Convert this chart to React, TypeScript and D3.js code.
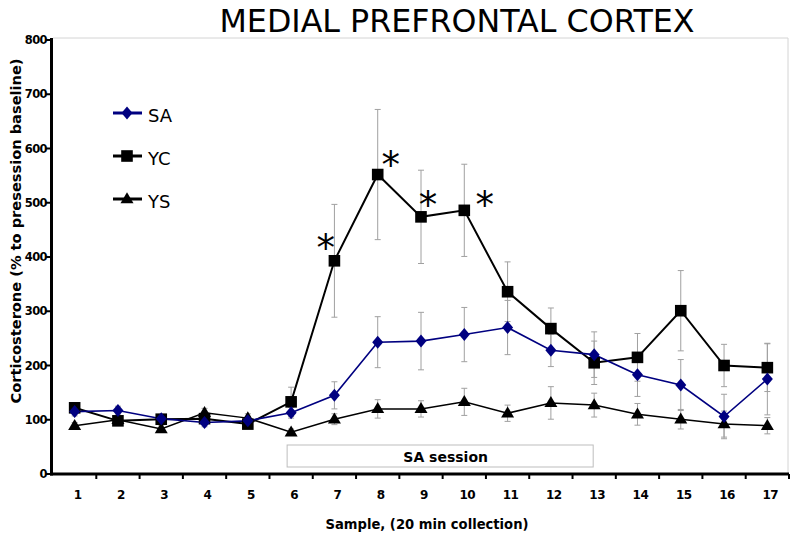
import React from "react";
import * as d3 from "d3";

const samples = [1, 2, 3, 4, 5, 6, 7, 8, 9, 10, 11, 12, 13, 14, 15, 16, 17];
const saValues = [115, 117, 102, 95, 98, 113, 145, 243, 245, 257, 270, 228, 220, 183, 164, 106, 175];
const saErrors = [8, 8, 8, 8, 8, 10, 25, 47, 53, 50, 50, 30, 42, 40, 47, 41, 66];
const ycValues = [122, 98, 101, 102, 92, 133, 393, 552, 474, 486, 336, 268, 205, 215, 301, 200, 196];
const ycErrors = [8, 8, 8, 8, 8, 27, 104, 120, 86, 85, 55, 38, 40, 44, 74, 39, 44];
const ysValues = [89, 100, 83, 113, 103, 77, 101, 120, 120, 133, 112, 131, 127, 110, 101, 92, 89];
const ysErrors = [6, 6, 6, 8, 8, 6, 10, 17, 15, 25, 15, 30, 22, 20, 18, 24, 15];
const yTicks = [0, 100, 200, 300, 400, 500, 600, 700, 800];
const legendLabels = ["SA", "YC", "YS"];
const starSamples = [7, 8, 9, 10];
const starOffsets = [-0.2, 0.3, 0.16, 0.47];
const starValues = [433, 586, 513, 513];
const sessionStart = 6;
const sessionEnd = 13;

const W = 800;
const H = 538;
const left = 53;
const right = 789;
const bottom = 474;
const top = 40;

const x = d3.scaleBand<number>().domain(samples).range([left, right]).padding(0);
const y = d3.scaleLinear().domain([0, 800]).range([bottom, top]);
const cx = (s: number) => (x(s) as number) + x.bandwidth() / 2;

const lineGen = d3
  .line<number>()
  .x((_, i) => cx(samples[i]))
  .y((v) => y(v));

type MarkerKind = "diamond" | "square" | "triangle";

function Marker({ kind, px, py, color }: { kind: MarkerKind; px: number; py: number; color: string }) {
  if (kind === "diamond") {
    const w = 5.5, h = 6.5;
    return <path d={`M${px},${py - h}L${px + w},${py}L${px},${py + h}L${px - w},${py}Z`} fill={color} />;
  }
  if (kind === "square") {
    const s = 5.8;
    return <rect x={px - s} y={py - s} width={2 * s} height={2 * s} fill={color} />;
  }
  const w = 6.5, h = 11;
  return <path d={`M${px},${py - h * 0.62}L${px + w},${py + h * 0.38}L${px - w},${py + h * 0.38}Z`} fill={color} />;
}

const series = [
  { name: "SA", values: saValues, errors: saErrors, color: "#000080", width: 1.6, kind: "diamond" as MarkerKind },
  { name: "YC", values: ycValues, errors: ycErrors, color: "#000000", width: 2, kind: "square" as MarkerKind },
  { name: "YS", values: ysValues, errors: ysErrors, color: "#000000", width: 1.5, kind: "triangle" as MarkerKind },
];

const baseFont = "'DejaVu Sans', Verdana, sans-serif";

export default function App() {
  const xBoundaries = d3.range(1, samples.length + 1).map((k) => left + k * x.bandwidth());
  return (
    <div style={{ position: "absolute", left: 0, top: 0 }}>
      <svg width={W} height={H} style={{ display: "block", background: "#fff" }}>
        <rect x={0} y={0} width={W} height={H} fill="#fff" />
        <text
          x={457}
          y={32}
          textAnchor="middle"
          fontFamily={baseFont}
          fontSize={32}
          textLength={475}
          lengthAdjust="spacingAndGlyphs"
          fill="#000"
        >
          MEDIAL PREFRONTAL CORTEX
        </text>

        {/* light frame */}
        <path d={`M${left},38H788V${bottom}`} fill="none" stroke="#d4d4d4" strokeWidth={1} />

        {/* SA session box */}
        <rect
          x={cx(sessionStart) - 4}
          y={445}
          width={cx(sessionEnd) - cx(sessionStart) + 3}
          height={22}
          fill="#fff"
          stroke="#bdbdbd"
          strokeWidth={1}
        />
        <text
          x={(cx(sessionStart) + cx(sessionEnd)) / 2 + 3}
          y={462}
          textAnchor="middle"
          fontFamily={baseFont}
          fontWeight="bold"
          fontSize={14}
          fill="#000"
        >
          SA session
        </text>

        {/* error bars */}
        {series.map((s) =>
          s.values.map((v, i) => {
            const px = cx(samples[i]);
            const y1 = y(v + s.errors[i]);
            const y2 = y(v - s.errors[i]);
            return (
              <g key={`${s.name}-e-${i}`} stroke="#a0a0a0" strokeWidth={1}>
                <line x1={px} x2={px} y1={y1} y2={y2} />
                <line x1={px - 3} x2={px + 3} y1={y1} y2={y1} />
                <line x1={px - 3} x2={px + 3} y1={y2} y2={y2} />
              </g>
            );
          })
        )}

        {/* lines */}
        {series
          .slice()
          .reverse()
          .map((s) => (
            <path key={`${s.name}-l`} d={lineGen(s.values) || ""} fill="none" stroke={s.color} strokeWidth={s.width} />
          ))}
        {series
          .slice()
          .reverse()
          .map((s) =>
            s.values.map((v, i) => (
              <Marker key={`${s.name}-m-${i}`} kind={s.kind} px={cx(samples[i])} py={y(v)} color={s.color} />
            ))
          )}

        {/* stars */}
        {starSamples.map((s, i) => (
          <text
            key={`star-${s}`}
            x={cx(s) + starOffsets[i] * x.bandwidth()}
            y={y(starValues[i]) + 22}
            textAnchor="middle"
            fontFamily={baseFont}
            fontSize={37}
            fill="#000"
          >
            *
          </text>
        ))}

        {/* axes */}
        <line x1={51.5} x2={51.5} y1={38} y2={bottom + 1.5} stroke="#000" strokeWidth={3} />
        <line x1={50} x2={right} y1={bottom} y2={bottom} stroke="#000" strokeWidth={3} />
        {yTicks.map((t) => (
          <g key={`yt-${t}`}>
            <line x1={46} x2={51} y1={y(t)} y2={y(t)} stroke="#000" strokeWidth={2} />
            <text
              x={47}
              y={y(t) + 4}
              textAnchor="end"
              fontFamily={baseFont}
              fontWeight="bold"
              fontSize={11.5}
              letterSpacing={-0.6}
              fill="#000"
            >
              {t}
            </text>
          </g>
        ))}
        {xBoundaries.map((bx, i) => (
          <line key={`xt-${i}`} x1={bx} x2={bx} y1={bottom} y2={bottom + 5} stroke="#000" strokeWidth={2} />
        ))}
        {samples.map((s) => (
          <text
            key={`xl-${s}`}
            x={cx(s) + 3}
            y={499}
            textAnchor="middle"
            fontFamily={baseFont}
            fontWeight="bold"
            fontSize={12}
            letterSpacing={-0.5}
            fill="#000"
          >
            {s}
          </text>
        ))}

        <text
          x={427}
          y={529}
          textAnchor="middle"
          fontFamily={baseFont}
          fontWeight="bold"
          fontSize={14}
          textLength={203}
          lengthAdjust="spacingAndGlyphs"
          fill="#000"
        >
          Sample,  (20 min collection)
        </text>
        <text
          transform="translate(21,231) rotate(-90)"
          textAnchor="middle"
          fontFamily={baseFont}
          fontWeight="bold"
          fontSize={14}
          textLength={345}
          lengthAdjust="spacingAndGlyphs"
          fill="#000"
        >
          Corticosterone (% to presession baseline)
        </text>

        {/* legend */}
        {series.map((s, i) => {
          const ly = 113 + i * 43;
          return (
            <g key={`lg-${s.name}`}>
              <line x1={113} x2={142} y1={ly} y2={ly} stroke={s.color} strokeWidth={3} />
              <Marker kind={s.kind} px={127} py={ly} color={s.color} />
              <text x={148} y={ly + 9} fontFamily={baseFont} fontSize={18} fill="#000">
                {legendLabels[i]}
              </text>
            </g>
          );
        })}
      </svg>
    </div>
  );
}
